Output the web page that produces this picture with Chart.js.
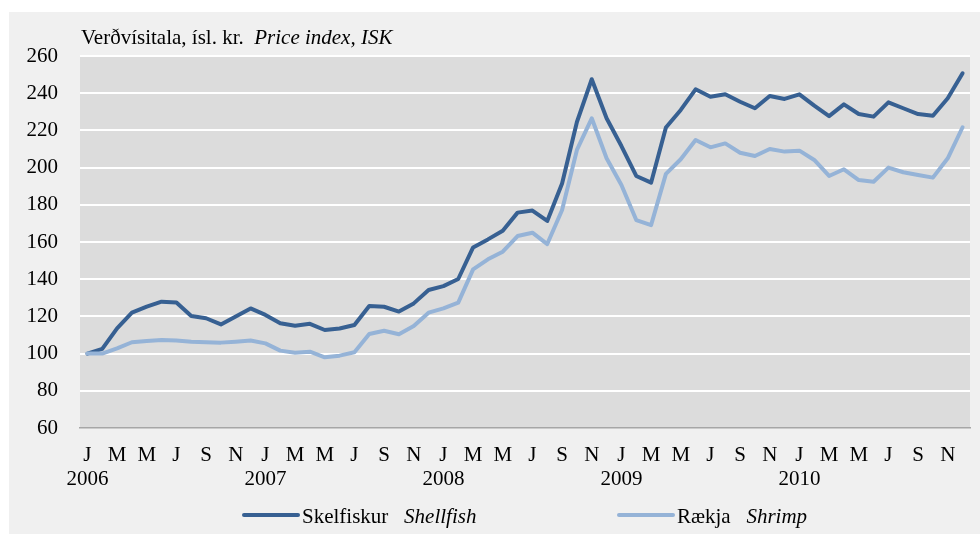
<!DOCTYPE html>
<html>
<head>
<meta charset="utf-8">
<script src="https://cdn.jsdelivr.net/npm/chart.js@4"></script>
<style>
  html, body { margin: 0; padding: 0; background: #ffffff; }
  #wrap { width: 980px; height: 534px; }
</style>
</head>
<body>
<div id="wrap"><canvas id="grafico" width="980" height="534"></canvas></div>
<script>
// Mánuðir jan 2006 - des 2010
const manudir = ['J','F','M','A','M','J','J','A','S','O','N','D'];
const ar = ['2006','2007','2008','2009','2010'];

const skelfiskur = [
  100, 102.5, 113.6, 122, 125.2, 127.9, 127.5, 120.2, 119, 115.7, 120, 124.3,
  120.8, 116.3, 115, 116, 112.7, 113.5, 115.4, 125.6, 125.2, 122.6, 127, 134.2,
  136.3, 140.1, 157.1, 161.4, 166.1, 175.8, 176.9, 171.3, 191.5, 224.5, 247.5, 226.5,
  211.6, 195.5, 191.9, 221.6, 231, 242.1, 238.1, 239.4, 235.4, 231.9, 238.5, 236.9,
  239.4, 233.3, 227.7, 234, 228.8, 227.4, 235.1, 231.9, 228.8, 227.9, 237.3, 250.7
];
const raekja = [
  100, 100, 102.8, 106.1, 106.8, 107.3, 107, 106.4, 106.1, 105.9, 106.4, 107,
  105.5, 101.6, 100.5, 101, 98, 98.9, 100.7, 110.5, 112.3, 110.4, 114.8, 122,
  124.3, 127.4, 145.3, 150.7, 154.8, 163.2, 165, 158.9, 177.2, 209.5, 226.5, 205,
  190.6, 171.8, 169.1, 196.6, 204.5, 214.8, 210.9, 213, 208, 206.2, 210, 208.6,
  209.1, 204.1, 195.5, 199.1, 193.3, 192.4, 200, 197.5, 196, 194.6, 205, 221.7
];
const yTicks = [60, 80, 100, 120, 140, 160, 180, 200, 220, 240, 260];

const flokkar = [];
ar.forEach(a => manudir.forEach(m => flokkar.push(m + ' ' + a)));

const DOKKUR = '#376092';
const LJOS = '#95b3d7';
const LETUR = "'Liberation Serif', 'Times New Roman', serif";
const STAERD = 21;

// bakgrunnur, titill og skýringar
const teikna = {
  id: 'teikna',
  beforeDraw(chart) {
    const c = chart.ctx;
    const a = chart.chartArea;
    c.save();
    c.fillStyle = '#ffffff';
    c.fillRect(0, 0, chart.width, chart.height);
    c.fillStyle = '#f0f0f0';
    c.fillRect(9, 12, chart.width - 9, chart.height - 12);
    c.fillStyle = '#dcdcdc';
    c.fillRect(a.left, a.top, a.right - a.left, a.bottom - a.top);
    c.restore();
  },
  afterDraw(chart) {
    const c = chart.ctx;
    c.save();
    c.fillStyle = '#000';
    c.textBaseline = 'alphabetic';
    c.font = STAERD + 'px ' + LETUR;
    const t1 = 'Verðvísitala, ísl. kr.  ';
    c.fillText(t1, 81, 44);
    const w = c.measureText(t1).width;
    c.font = 'italic ' + STAERD + 'px ' + LETUR;
    c.fillText('Price index, ISK', 81 + w, 44);

    const skyring = [
      { x: 243, litur: DOKKUR, texti: 'Skelfiskur', enska: 'Shellfish' },
      { x: 618, litur: LJOS, texti: 'Rækja', enska: 'Shrimp' }
    ];
    skyring.forEach(s => {
      c.strokeStyle = s.litur;
      c.lineWidth = 4;
      c.lineCap = 'round';
      c.beginPath();
      c.moveTo(s.x + 1, 515);
      c.lineTo(s.x + 55, 515);
      c.stroke();
      c.font = STAERD + 'px ' + LETUR;
      c.fillText(s.texti, s.x + 59, 523);
      const b = c.measureText(s.texti + '   ').width;
      c.font = 'italic ' + STAERD + 'px ' + LETUR;
      c.fillText(s.enska, s.x + 59 + b, 523);
    });
    c.restore();
  }
};

new Chart(document.getElementById('grafico'), {
  type: 'line',
  data: {
    labels: flokkar,
    datasets: [
      {
        label: 'Skelfiskur Shellfish',
        data: skelfiskur,
        borderColor: DOKKUR,
        borderWidth: 4,
        pointRadius: 0,
        tension: 0,
        borderCapStyle: 'round',
        borderJoinStyle: 'round',
        order: 2
      },
      {
        label: 'Rækja Shrimp',
        data: raekja,
        borderColor: LJOS,
        borderWidth: 4,
        pointRadius: 0,
        tension: 0,
        borderCapStyle: 'round',
        borderJoinStyle: 'round',
        order: 1
      }
    ]
  },
  options: {
    responsive: false,
    animation: false,
    layout: { padding: { top: 56, right: 10, left: 0, bottom: 0 } },
    plugins: { legend: { display: false }, tooltip: { enabled: false } },
    scales: {
      x: {
        type: 'category',
        offset: true,
        grid: { display: false, drawTicks: false },
        border: { display: true, color: '#a6a6a6', width: 1.5 },
        ticks: {
          autoSkip: false,
          maxRotation: 0,
          padding: 15,
          color: '#000',
          font: { family: LETUR, size: STAERD, lineHeight: 1.15 },
          callback: function (val, i) {
            if (i % 2 !== 0) return '';
            const m = manudir[i % 12];
            if (i % 12 === 0) return [m, ar[i / 12]];
            return m;
          }
        },
        afterFit(scale) { scale.height = 106; }
      },
      y: {
        min: 60,
        max: 260,
        afterBuildTicks(scale) { scale.ticks = yTicks.map(v => ({ value: v })); },
        grid: {
          drawTicks: false,
          lineWidth: 2,
          color: ctx => ctx.tick && ctx.tick.value === 60 ? 'rgba(0,0,0,0)' : '#ffffff'
        },
        border: { display: false },
        ticks: {
          padding: 22,
          color: '#000',
          font: { family: LETUR, size: STAERD }
        },
        afterFit(scale) { scale.width = 80; }
      }
    }
  },
  plugins: [teikna]
});
</script>
</body>
</html>
